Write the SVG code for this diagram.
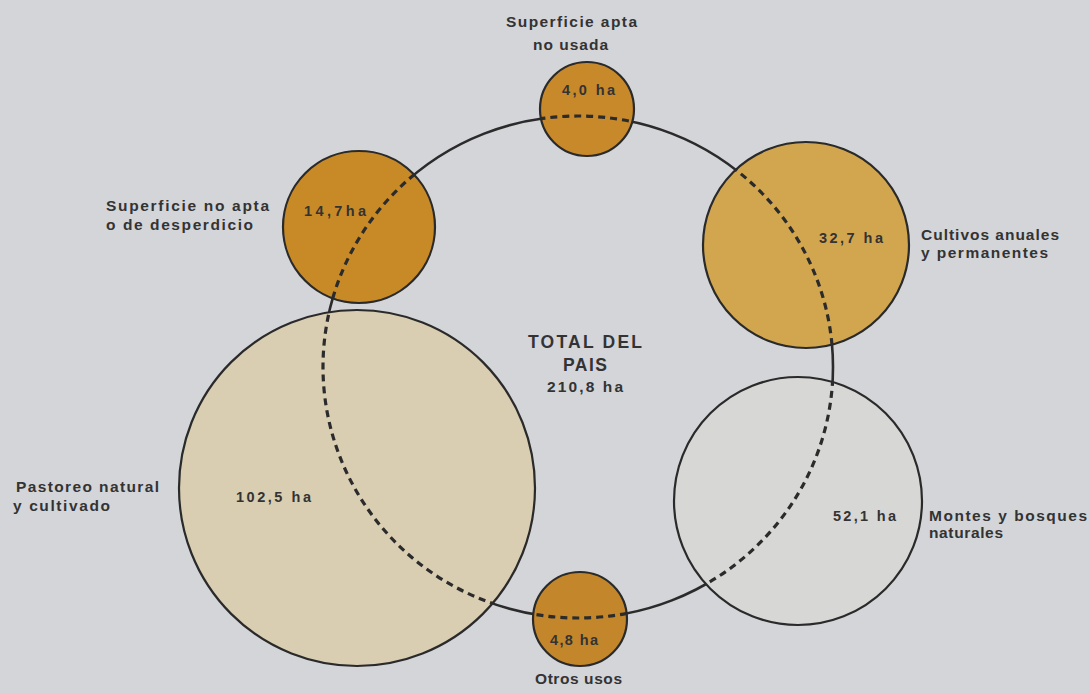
<svg xmlns="http://www.w3.org/2000/svg" width="1089" height="693" viewBox="0 0 1089 693">
<style>
.t{font-family:"Liberation Sans",Arial,sans-serif;font-weight:bold;fill:#333;font-size:15.5px}
.n{font-size:14.5px}
.c{font-size:17.5px}
.node{stroke:#2a2a2a;stroke-width:2.2}
.ring{fill:none;stroke:#2b2b2b;stroke-width:2.6}
.dash{fill:none;stroke:#2b2b2b;stroke-width:3.2;stroke-dasharray:7 5}
</style>
<defs>
<clipPath id="inside">
<circle cx="587" cy="109" r="47"/>
<circle cx="359" cy="227" r="76"/>
<circle cx="806" cy="245" r="103"/>
<circle cx="798" cy="501" r="124"/>
<circle cx="580" cy="619" r="47"/>
<circle cx="357" cy="488" r="178"/>
</clipPath>
</defs>
<rect width="1089" height="693" fill="#d3d5d9"/>
<g id="connectors">
<ellipse class="ring" cx="578" cy="367" rx="255" ry="251"/>
</g>
<g id="pastoreo">
<circle class="node" cx="357" cy="488" r="178" fill="#d9cdb2"/>
<text class="t n" x="236" y="502" textLength="75">102,5 ha</text>
<text class="t" x="16" y="492" textLength="143">Pastoreo natural</text>
<text class="t" x="13" y="511" textLength="97">y cultivado</text>
</g>
<g id="no-apta">
<circle class="node" cx="359" cy="227" r="76" fill="#c88a26"/>
<text class="t n" x="304" y="216" textLength="62">14,7ha</text>
<text class="t" x="106" y="211" textLength="163">Superficie no apta</text>
<text class="t" x="106" y="230" textLength="147">o de desperdicio</text>
</g>
<g id="apta-no-usada">
<circle class="node" cx="587" cy="109" r="47" fill="#c8892a"/>
<text class="t n" x="562" y="95" textLength="53">4,0 ha</text>
<text class="t" x="506" y="27" textLength="131">Superficie apta</text>
<text class="t" x="533" y="50" textLength="75">no usada</text>
</g>
<g id="cultivos">
<circle class="node" cx="806" cy="245" r="103" fill="#d2a64e"/>
<text class="t n" x="819" y="243" textLength="64">32,7 ha</text>
<text class="t" x="921" y="240" textLength="138">Cultivos anuales</text>
<text class="t" x="921" y="258" textLength="127">y permanentes</text>
</g>
<g id="montes">
<circle class="node" cx="798" cy="501" r="124" fill="#d7d7d5"/>
<text class="t n" x="833" y="521" textLength="63">52,1 ha</text>
<text class="t" x="929" y="521" textLength="158">Montes y bosques</text>
<text class="t" x="929" y="538" textLength="74">naturales</text>
</g>
<g id="otros">
<circle class="node" cx="580" cy="619" r="47" fill="#c4862a"/>
<text class="t n" x="550" y="645" textLength="48">4,8 ha</text>
<text class="t" x="535" y="684" textLength="87">Otros usos</text>
</g>
<g id="dashed-ring" clip-path="url(#inside)">
<ellipse class="dash" cx="578" cy="367" rx="255" ry="251"/>
</g>
<g id="total">
<text class="t c" x="528" y="348" textLength="114">TOTAL DEL</text>
<text class="t c" x="563" y="371" textLength="44">PAIS</text>
<text class="t" x="547" y="392" textLength="76">210,8 ha</text>
</g>
</svg>
